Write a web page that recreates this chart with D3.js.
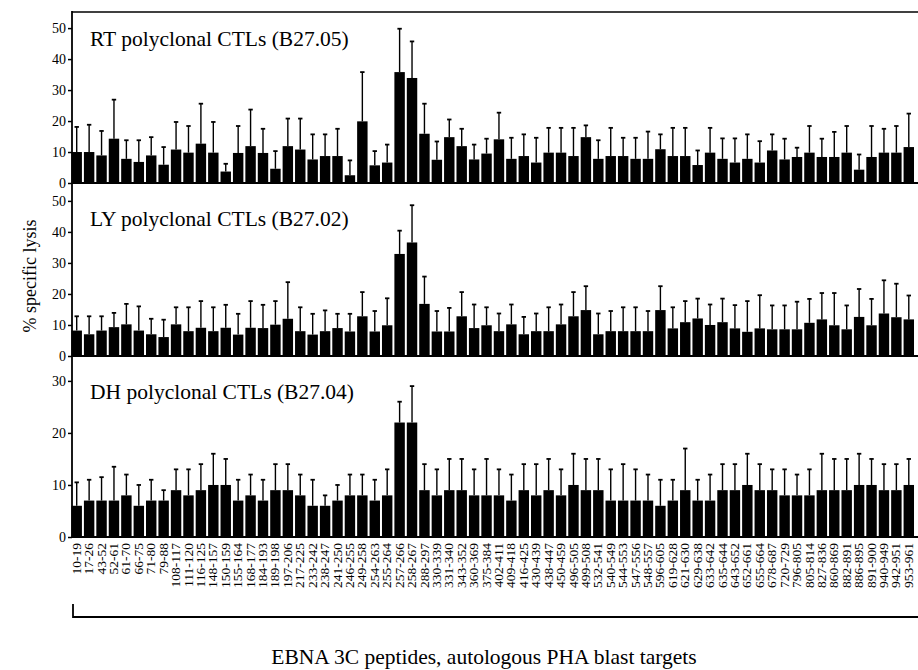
<!DOCTYPE html>
<html>
<head>
<meta charset="utf-8">
<script src="https://cdn.jsdelivr.net/npm/d3@7"></script>
<style>
body { margin: 0; background: #fff; }
svg text { font-family: "Liberation Serif", "Times New Roman", serif; fill: #000; }
</style>
</head>
<body>
<div id="chart"></div>
<script>
const peptides = ['10-19', '17-26', '43-52', '52-61', '61-70', '66-75', '71-80', '79-88', '108-117', '111-120',
  '116-125', '148-157', '150-159', '155-164', '168-177', '184-193', '189-198', '197-206', '217-225', '233-242',
  '238-247', '241-250', '246-255', '249-258', '254-263', '255-264', '257-266', '258-267', '288-297', '330-339',
  '331-340', '343-352', '360-369', '375-384', '402-411', '409-418', '416-425', '430-439', '438-447', '450-459',
  '496-505', '499-508', '532-541', '540-549', '544-553', '547-556', '548-557', '596-605', '619-628', '621-630',
  '629-638', '633-642', '635-644', '643-652', '652-661', '655-664', '678-687', '720-729', '796-805', '805-814',
  '827-836', '860-869', '882-891', '886-895', '891-900', '940-949', '942-951', '953-961'];

// mean % lysis and upper error (SD) per peptide
const rtMean = [10.0, 10.0, 8.9, 14.3, 7.8, 6.8, 8.9, 5.9, 10.8, 9.8,
  12.7, 9.8, 3.7, 9.7, 11.9, 9.7, 4.6, 11.9, 10.8, 7.6,
  8.7, 8.7, 2.5, 19.9, 5.7, 6.6, 35.8, 33.9, 15.9, 7.5,
  14.8, 11.9, 7.6, 9.5, 14.1, 7.8, 8.7, 6.6, 9.8, 9.8,
  8.7, 14.8, 7.8, 8.7, 8.7, 7.8, 7.8, 10.9, 8.7, 8.7,
  5.8, 9.8, 7.8, 6.6, 7.8, 6.6, 10.5, 7.6, 8.4, 9.8,
  8.4, 8.4, 9.8, 4.3, 8.4, 9.8, 9.8, 11.6];
const rtSd = [8.1, 8.8, 7.9, 12.6, 6.0, 7.0, 5.9, 5.7, 8.9, 8.6,
  12.9, 9.9, 2.5, 8.7, 11.8, 7.8, 5.7, 8.9, 10.0, 8.1,
  7.0, 8.8, 4.8, 15.9, 4.6, 5.8, 14.0, 11.8, 9.7, 5.9,
  5.7, 5.6, 4.8, 4.8, 8.6, 6.8, 7.0, 8.0, 8.0, 8.0,
  9.1, 3.8, 6.0, 9.1, 5.9, 6.8, 8.8, 4.8, 9.1, 9.1,
  4.7, 8.0, 6.6, 7.8, 7.9, 6.9, 5.2, 6.7, 3.0, 8.6,
  5.9, 8.1, 8.6, 4.9, 10.0, 7.7, 8.6, 10.8];

const lyMean = [8.2, 7.0, 8.2, 9.3, 10.2, 8.2, 7.0, 6.1, 10.2, 8.0,
  9.1, 8.0, 9.1, 6.9, 9.1, 9.0, 10.1, 12.0, 8.0, 6.9,
  8.0, 9.0, 7.9, 12.8, 7.9, 9.9, 32.9, 36.6, 16.8, 7.9,
  7.9, 12.8, 9.0, 9.9, 8.0, 10.2, 7.0, 8.0, 8.0, 10.2,
  12.8, 14.8, 7.0, 8.0, 8.0, 8.0, 8.0, 14.8, 8.9, 10.9,
  12.1, 10.0, 10.9, 8.9, 7.8, 8.9, 8.6, 8.6, 8.6, 10.7,
  11.8, 9.9, 8.6, 12.6, 9.9, 13.7, 12.5, 11.8];
const lySd = [4.6, 5.8, 4.6, 4.6, 6.6, 7.8, 5.0, 5.6, 5.5, 7.7,
  8.6, 7.7, 7.4, 6.7, 8.6, 7.5, 7.6, 11.8, 7.7, 6.7,
  6.7, 4.6, 5.7, 7.8, 6.6, 8.7, 7.5, 12.0, 8.8, 6.6,
  7.6, 7.8, 7.6, 5.8, 5.7, 6.4, 5.6, 5.7, 7.7, 6.4,
  7.8, 7.7, 6.7, 6.5, 7.7, 7.7, 6.5, 7.7, 6.8, 6.8,
  6.4, 6.6, 7.6, 7.5, 9.9, 10.7, 7.7, 7.7, 8.9, 7.7,
  8.5, 10.4, 7.7, 9.0, 8.5, 10.7, 10.8, 7.7];

const dhMean = [6, 7, 7, 7, 8, 6, 7, 7, 9, 8,
  9, 10, 10, 7, 8, 7, 9, 9, 8, 6,
  6, 7, 8, 8, 7, 8, 22, 22, 9, 8,
  9, 9, 8, 8, 8, 7, 9, 8, 9, 8,
  10, 9, 9, 7, 7, 7, 7, 6, 7, 9,
  7, 7, 9, 9, 10, 9, 9, 8, 8, 8,
  9, 9, 9, 10, 10, 9, 9, 10];
const dhSd = [4.5, 4, 4.5, 6.5, 4, 4, 4, 2, 4, 5,
  5, 6, 5, 4, 4, 4, 5, 5, 4, 5,
  2, 3, 4, 4, 4, 5, 4, 7, 5, 5,
  6, 6, 5, 7, 5, 5, 5, 6, 6, 5,
  6, 6, 6, 6, 7, 6, 5, 5, 4, 8,
  4, 5, 5, 5, 6, 5, 4, 5, 4, 5,
  7, 6, 6, 6, 5, 5, 5, 5];

const bigTicks = [0, 10, 20, 30, 40, 50];
const dhTicks = [0, 10, 20, 30];

const width = 918;
const height = 670;
const left = 72;

const svg = d3.select('#chart').append('svg').attr('width', width).attr('height', height);

const x = d3.scaleBand().domain(peptides).range([70.5, 915]).paddingInner(0.16).paddingOuter(0.08);

const panels = [
  {title: 'RT polyclonal CTLs (B27.05)', mean: rtMean, sd: rtSd, range: [183, 12], max: 55.2, ticks: bigTicks, titleY: 46},
  {title: 'LY polyclonal CTLs (B27.02)', mean: lyMean, sd: lySd, range: [356, 186], max: 54.8, ticks: bigTicks, titleY: 226},
  {title: 'DH polyclonal CTLs (B27.04)', mean: dhMean, sd: dhSd, range: [537, 358], max: 34.4, ticks: dhTicks, titleY: 399}
];

panels.forEach(function (p) {
  const y = d3.scaleLinear().domain([0, p.max]).range(p.range);
  const g = svg.append('g');
  const cx = (d, i) => x(peptides[i]) + x.bandwidth() / 2;

  // error bars (upper only)
  g.selectAll('line.err').data(p.mean).enter().append('line')
    .attr('x1', cx).attr('x2', cx)
    .attr('y1', d => y(d))
    .attr('y2', (d, i) => y(d + p.sd[i]))
    .attr('stroke', '#000').attr('stroke-width', 1.4);
  g.selectAll('line.cap').data(p.mean).enter().append('line')
    .attr('x1', (d, i) => cx(d, i) - 2.2).attr('x2', (d, i) => cx(d, i) + 2.2)
    .attr('y1', (d, i) => y(d + p.sd[i])).attr('y2', (d, i) => y(d + p.sd[i]))
    .attr('stroke', '#000').attr('stroke-width', 1.8);

  // bars
  g.selectAll('rect').data(p.mean).enter().append('rect')
    .attr('x', (d, i) => x(peptides[i]))
    .attr('width', x.bandwidth())
    .attr('y', d => y(d))
    .attr('height', d => y(0) - y(d))
    .attr('fill', '#000');

  // zero line
  g.append('line').attr('x1', left).attr('x2', width).attr('y1', y(0)).attr('y2', y(0))
    .attr('stroke', '#000').attr('stroke-width', 2);

  const ax = svg.append('g').attr('transform', 'translate(' + left + ',0)')
    .call(d3.axisLeft(y).tickValues(p.ticks).tickSize(4).tickPadding(2).tickFormat(d3.format('d')));
  ax.select('.domain').remove();
  ax.selectAll('line').attr('stroke-width', 1.5);
  ax.selectAll('text').style('font-size', '14px');

  svg.append('text').attr('x', 90).attr('y', p.titleY)
    .style('font-size', '21.5px').text(p.title);
});

// frame: left axis line and top line
svg.append('line').attr('x1', left).attr('x2', left).attr('y1', 11).attr('y2', 538)
  .attr('stroke', '#000').attr('stroke-width', 1.8);
svg.append('line').attr('x1', left).attr('x2', width).attr('y1', 12).attr('y2', 12)
  .attr('stroke', '#000').attr('stroke-width', 1.5);

// peptide labels
svg.append('g').selectAll('text').data(peptides).enter().append('text')
  .attr('transform', d => 'translate(' + (x(d) + x.bandwidth() / 2) + ',543) rotate(-90)')
  .attr('dy', '0.3em')
  .attr('text-anchor', 'end')
  .style('font-size', '13.5px')
  .text(d => d);

// bracket under the labels
svg.append('path').attr('d', 'M' + (left + 1) + ',604V617H' + width)
  .attr('fill', 'none').attr('stroke', '#000').attr('stroke-width', 1.8);

svg.append('text').attr('transform', 'translate(36,276) rotate(-90)')
  .attr('text-anchor', 'middle').style('font-size', '18px').text('% specific lysis');

svg.append('text').attr('x', 484).attr('y', 664).attr('text-anchor', 'middle')
  .style('font-size', '21.5px').text('EBNA 3C peptides, autologous PHA blast targets');
</script>
</body>
</html>
